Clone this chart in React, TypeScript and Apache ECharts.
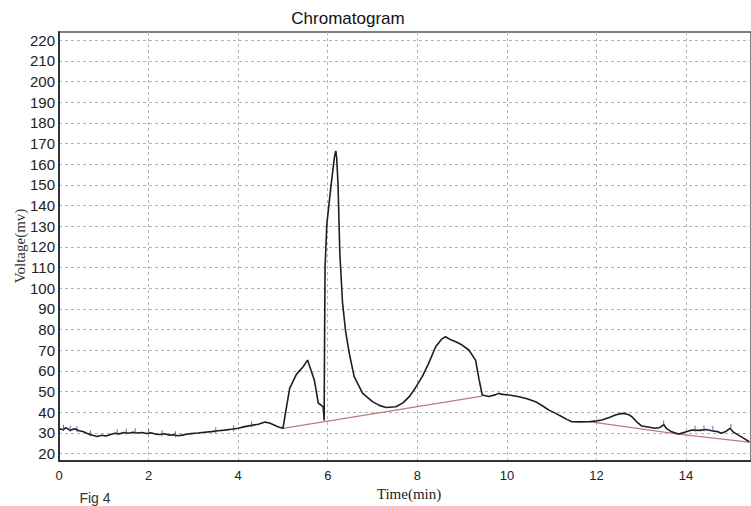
import React, { useEffect, useRef } from 'react';
import * as echarts from 'echarts';

// Chromatogram trace: [time (min), voltage (mV)]
const signal: [number, number][] = [
  [0, 32], [0.1, 31.5], [0.15, 32.5], [0.25, 31.2], [0.35, 32], [0.45, 31], [0.55, 30.5],
  [0.65, 29.5], [0.75, 28.8], [0.85, 28.2], [0.95, 28.8], [1.05, 28.5], [1.15, 29.2],
  [1.25, 29.8], [1.35, 29.5], [1.45, 30.2], [1.55, 29.8], [1.65, 30.3], [1.75, 29.9],
  [1.85, 30.2], [1.95, 29.7], [2.05, 30], [2.15, 29.4], [2.25, 29.2], [2.35, 29.6],
  [2.45, 28.9], [2.55, 29.1], [2.65, 28.6], [2.75, 28.9], [2.85, 29.3], [2.95, 29.6],
  [3.1, 29.9], [3.25, 30.3], [3.4, 30.6], [3.55, 31], [3.7, 31.3], [3.85, 31.7], [4.0, 32.2],
  [4.15, 33], [4.3, 33.6], [4.45, 34.2], [4.6, 35.2], [4.7, 34.8], [4.8, 33.8], [4.9, 32.8],
  [5.0, 32.2], [5.06, 40], [5.15, 51.5], [5.3, 58.3], [5.45, 62], [5.55, 65.2], [5.6, 62],
  [5.7, 55.6], [5.79, 44.3], [5.85, 43.5], [5.9, 42.4], [5.92, 36], [5.925, 60], [5.94, 110],
  [5.98, 131], [6.07, 149], [6.15, 163.6], [6.18, 166.5], [6.2, 163], [6.23, 150], [6.27, 117],
  [6.33, 93], [6.4, 79], [6.48, 68.6], [6.59, 57.2], [6.78, 49.1], [7.0, 45.1], [7.15, 43.3],
  [7.3, 42.3], [7.52, 42.6], [7.68, 44.5], [7.82, 47.5], [7.95, 51.5], [8.11, 57.2],
  [8.25, 63.5], [8.41, 71.7], [8.55, 75.5], [8.63, 76.5], [8.75, 75], [8.86, 74.1], [9.0, 72.5],
  [9.15, 70.1], [9.3, 65.2], [9.38, 55.6], [9.45, 48.3], [9.6, 47.6], [9.75, 48.5], [9.82, 49.1],
  [9.9, 48.6], [10.05, 48.3], [10.27, 47.5], [10.45, 46.5], [10.64, 45.1], [10.8, 43],
  [10.94, 41], [11.1, 39.3], [11.23, 37.8], [11.35, 36.4], [11.45, 35.4], [11.65, 35.3],
  [11.83, 35.4], [12.0, 35.8], [12.12, 36.2], [12.3, 37.6], [12.42, 38.6], [12.55, 39.3],
  [12.64, 39.4], [12.72, 38.8], [12.79, 37.8], [12.9, 35.3], [13.01, 33.3], [13.15, 32.8],
  [13.31, 32.2], [13.42, 32.6], [13.5, 34], [13.56, 32.2], [13.68, 30.5], [13.83, 29.4],
  [13.95, 30.2], [14.13, 31.4], [14.3, 31.2], [14.45, 31.6], [14.57, 31.0], [14.7, 30.6],
  [14.79, 29.8], [14.9, 30.8], [14.98, 32.2], [15.05, 30.5], [15.17, 28.9], [15.3, 27.2],
  [15.41, 25.7],
];

// Integration baselines (red)
const baselineA: [number, number][] = [[5.0, 32.2], [9.45, 47.8]];
const baselineB: [number, number][] = [[11.83, 35.4], [13.83, 29.4], [15.45, 25.4]];

// Small blue peak-detection markers
const markers: [number, number][] = [
  [0.1, 32.5], [0.25, 32], [0.4, 31.8], [0.7, 29.8], [1.3, 30.3], [1.5, 30.6], [1.7, 30.8],
  [2.0, 30.4], [2.3, 29.8], [2.6, 29.3], [3.5, 31.2], [3.9, 32.2], [4.3, 34], [13.5, 34.5],
  [14.2, 32], [14.4, 32.2], [14.6, 31.8], [15.0, 33],
];

const titleText = 'Chromatogram';
const yName = 'Voltage(mv)';
const xName = 'Time(min)';
const figText = 'Fig 4';

export default function App() {
  const ref = useRef<HTMLDivElement>(null);
  useEffect(() => {
    if (!ref.current) return;
    const chart = echarts.init(ref.current, undefined, { renderer: 'svg' });
    const grid = { color: '#b3b3b3', type: [3, 3] as number[], width: 1 };
    chart.setOption({
      animation: false,
      backgroundColor: '#ffffff',
      grid: [
        { left: 59, right: -2, top: 32, bottom: 45, show: true, borderColor: '#555', borderWidth: 1.5 },
        { left: 59, right: -2, top: 40.3, bottom: 52.5 },
      ],
      xAxis: [
        {
          gridIndex: 0, type: 'value', min: 0, max: 15.45, interval: 2,
          axisLine: { show: true, lineStyle: { color: '#333', width: 2 } },
          axisTick: { show: false },
          axisLabel: { fontSize: 13, color: '#222', margin: 8, fontFamily: 'Liberation Sans', showMaxLabel: false },
          splitLine: { show: true, lineStyle: grid },
        },
        { gridIndex: 1, type: 'value', min: 0, max: 15.45, show: false },
      ],
      yAxis: [
        {
          gridIndex: 0, type: 'value', min: 0, max: 1,
          axisLine: { show: true, lineStyle: { color: '#333', width: 2 } },
          axisTick: { show: false }, axisLabel: { show: false }, splitLine: { show: false },
        },
        {
          gridIndex: 1, type: 'value', min: 20, max: 220, interval: 10,
          axisLine: { show: false }, axisTick: { show: false },
          axisLabel: { fontSize: 15, color: '#222', margin: 4, fontFamily: 'Liberation Sans' },
          splitLine: { show: true, lineStyle: grid },
        },
      ],
      series: [
        {
          type: 'line', xAxisIndex: 1, yAxisIndex: 1, data: baselineA, showSymbol: false,
          lineStyle: { color: '#c07a7a', width: 1.2 }, z: 2,
        },
        {
          type: 'line', xAxisIndex: 1, yAxisIndex: 1, data: baselineB, showSymbol: false,
          lineStyle: { color: '#c07a7a', width: 1.2 }, z: 2,
        },
        {
          type: 'line', xAxisIndex: 1, yAxisIndex: 1, data: signal, showSymbol: false,
          lineStyle: { color: '#1e1e1e', width: 1.6 }, z: 3,
        },
        {
          type: 'scatter', xAxisIndex: 1, yAxisIndex: 1, data: markers, symbol: 'rect',
          symbolSize: [1, 6], itemStyle: { color: '#44448a' }, z: 4,
        },
      ],
      graphic: [
        {
          type: 'text', x: 348, y: 18,
          style: { text: titleText, font: '17px "Liberation Sans", Arial, sans-serif', fill: '#111', align: 'center', verticalAlign: 'middle', textAlign: 'center', textVerticalAlign: 'middle' },
        },
        {
          type: 'text', x: 20, y: 246, rotation: Math.PI / 2,
          style: { text: yName, font: '15px "Liberation Serif", "Times New Roman", serif', fill: '#333', align: 'center', verticalAlign: 'middle', textAlign: 'center', textVerticalAlign: 'middle' },
        },
        {
          type: 'text', x: 409, y: 494,
          style: { text: xName, font: '15px "Liberation Serif", "Times New Roman", serif', fill: '#222', align: 'center', verticalAlign: 'middle', textAlign: 'center', textVerticalAlign: 'middle' },
        },
        {
          type: 'text', x: 95, y: 498,
          style: { text: figText, font: '14px "Liberation Sans", Arial, sans-serif', fill: '#333', align: 'center', verticalAlign: 'middle', textAlign: 'center', textVerticalAlign: 'middle' },
        },
      ],
    });
    return () => chart.dispose();
  }, []);
  return (
    <div
      ref={ref}
      style={{ position: 'absolute', left: 0, top: 0, width: 751, height: 506 }}
    />
  );
}
